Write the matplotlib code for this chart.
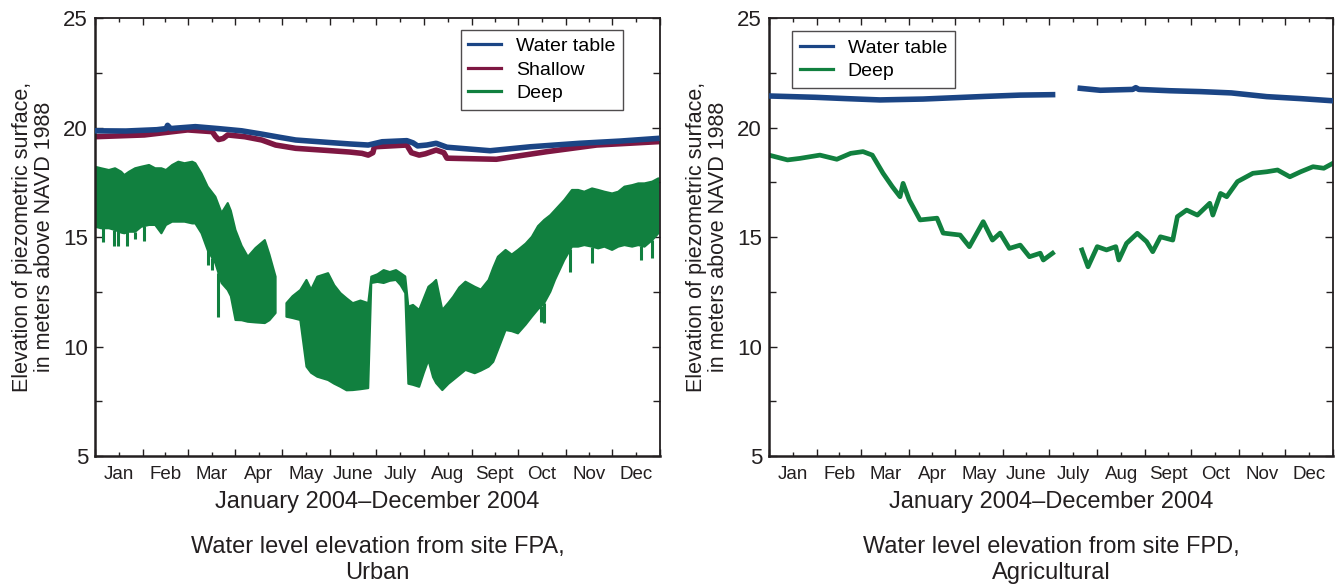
import numpy as np
import matplotlib
matplotlib.use("Agg")
import matplotlib.pyplot as plt
from matplotlib.ticker import FixedLocator, NullFormatter, FixedFormatter

plt.rcParams['font.family'] = ['Liberation Sans', 'DejaVu Sans']

nan = np.nan

### month layout for 2004 (leap year), day of year
month_starts = [0, 31, 60, 91, 121, 152, 182, 213, 244, 274, 305, 335, 366]
month_names = ['Jan', 'Feb', 'Mar', 'Apr', 'May', 'June',
               'July', 'Aug', 'Sept', 'Oct', 'Nov', 'Dec']

### site FPA (urban)
fpa_wt_day = [0, 20, 40, 46, 47, 49, 52, 65, 80, 95, 108, 120, 130, 151, 165, 177,
              186, 202, 206, 209, 215, 221, 228, 256, 282, 314, 340, 364]
fpa_wt = [19.85, 19.84, 19.9, 19.95, 20.1, 19.95, 19.97, 20.04, 19.95, 19.85, 19.7,
          19.55, 19.43, 19.32, 19.25, 19.2, 19.35, 19.4, 19.3, 19.16, 19.2, 19.28,
          19.1, 18.94, 19.12, 19.28, 19.38, 19.5]

fpa_sh_day = [0, 32, 60, 76, 78, 80, 83, 86, 97, 108, 117, 130, 151, 165, 173, 177,
              180, 181, 202, 205, 210, 214, 221, 226, 228, 260, 293, 325, 364]
fpa_sh = [19.58, 19.66, 19.89, 19.81, 19.6, 19.45, 19.5, 19.66, 19.58, 19.43, 19.2,
          19.05, 18.95, 18.88, 18.82, 18.74, 18.85, 19.12, 19.2, 18.85, 18.74, 18.8,
          18.97, 18.85, 18.6, 18.55, 18.9, 19.2, 19.35]

fpa_deep_day = [0, 4, 9, 13, 17, 19, 22, 26, 30, 35, 39, 43, 46, 50, 54, 58, 63, 65,
                69, 73, 78, 82, 86, 88, 91, 95, 99, 104, 110, 113, 117,
                120, 124, 128, 133, 137, 140, 144, 151, 155, 159, 163, 167, 172, 177,
                179, 183, 187, 191, 195, 198, 201, 203, 206, 210, 213, 216, 219, 221,
                225, 229, 232, 236, 240, 246, 250, 255, 258, 261, 266, 270, 274, 279,
                283, 287, 291, 295, 298, 304, 309, 313, 317, 322, 326, 330, 335, 339,
                343, 348, 352, 356, 361, 365]
fpa_deep_hi = [18.21, 18.14, 18.06, 18.14, 17.98, 17.83, 17.98, 18.14, 18.21, 18.29,
               18.14, 18.14, 18.06, 18.29, 18.44, 18.37, 18.44, 18.37, 17.9, 17.3, 16.84,
               16.1, 16.55, 16.2, 15.32, 14.6, 14.1, 14.5, 14.86, 14.2, 13.19,
               nan, 11.98, 12.3, 12.58, 13.04, 12.6, 13.19, 13.35, 12.8, 12.44, 12.2,
               11.98, 12.1, 11.98,
               13.19, 13.3, 13.49, 13.4, 13.49, 13.35, 13.2, 11.82, 11.9, 11.67, 12.2,
               12.73, 12.9, 13.04, 11.67, 12.0, 12.27, 12.7, 12.96, 12.73, 12.6, 13.04,
               13.6, 14.1, 14.41, 14.2, 14.41, 14.7, 15.01, 15.5, 15.78, 16.0, 16.23,
               16.69, 17.15, 17.15, 17.07, 17.22, 17.15, 17.07, 16.99, 17.07, 17.3,
               17.37, 17.45, 17.45, 17.53, 17.68]
fpa_deep_lo = [15.47, 15.4, 15.4, 15.32, 15.2, 15.17, 15.24, 15.24, 15.47, 15.55,
               15.55, 15.17, 15.55, 15.7, 15.7, 15.7, 15.62, 15.62, 15.17, 14.4, 13.8,
               12.9, 12.58, 12.3, 11.21, 11.2, 11.13, 11.1, 11.07, 11.2, 11.53,
               nan, 11.36, 11.3, 11.21, 9.08, 8.8, 8.62, 8.47, 8.3, 8.16, 8.0, 8.01,
               8.05, 8.1,
               12.9, 12.95, 12.9, 13.0, 13.04, 12.8, 12.44, 8.3, 8.25, 8.16, 8.8, 9.38,
               8.6, 8.33, 8.01, 8.3, 8.47, 8.7, 8.93, 8.78, 8.9, 9.08, 9.3, 9.84, 10.75,
               10.7, 10.6, 11.0, 11.36, 11.7, 11.98, 12.5, 13.04, 13.95, 14.56, 14.56,
               14.63, 14.56, 14.48, 14.56, 14.41, 14.56, 14.63, 14.56, 14.63, 14.56,
               14.86, 15.17]

# short downward excursions in the deep well
fpa_spike_day = [5, 12, 15, 21, 26, 32, 73, 76, 80, 289, 291, 308, 322, 354, 361]
fpa_spike_lo = [14.79, 14.6, 14.6, 14.6, 14.9, 14.8, 13.72, 13.5, 11.36, 11.13,
                11.07, 13.4, 13.8, 13.95, 14.04]

### site FPD (agricultural)
fpd_wt_day = [0, 30, 50, 72, 100, 120, 140, 163, 184, 202, 215, 236, 238, 240, 260,
              280, 300, 323, 345, 366]
fpd_wt = [21.44, 21.38, 21.32, 21.26, 21.3, 21.36, 21.42, 21.48, 21.5, 21.79, 21.7,
          21.74, 21.82, 21.74, 21.68, 21.64, 21.58, 21.41, 21.32, 21.22]

fpd_deep_day = [0, 12, 20, 33, 44, 53, 61, 67, 74, 80, 85, 87, 91, 98, 109, 113, 124,
                130, 139, 145, 150, 156, 163, 169, 176, 178, 184, 192,
                203, 207, 213, 219, 225, 227, 232, 239, 245, 249, 254, 262, 265, 271,
                278, 286, 288, 293, 297, 304, 314, 323, 330, 338, 345, 353, 360, 366]
fpd_deep = [18.74, 18.52, 18.59, 18.74, 18.55, 18.82, 18.9, 18.74, 17.91, 17.3, 16.84,
            17.45, 16.69, 15.78, 15.86, 15.18, 15.09, 14.56, 15.7, 14.86, 15.18, 14.48,
            14.63, 14.1, 14.26, 13.95, 14.26, nan,
            14.41, 13.64, 14.56, 14.41, 14.56, 13.95, 14.71, 15.17, 14.79, 14.33, 15.01,
            14.86, 15.93, 16.23, 16.0, 16.54, 16.0, 16.99, 16.84, 17.53, 17.91, 17.98,
            18.06, 17.75, 17.98, 18.21, 18.14, 18.37]
fpd_wt_gap = 192  # no record between early and mid July

BLUE = '#1b4585'
RED = '#7e1742'
GREEN = '#11803f'
TXT = '#231f20'

fig = plt.figure(figsize=(13.4, 5.85), dpi=100)
ax1 = fig.add_axes([0.0709, 0.2205, 0.4216, 0.7487])
ax2 = fig.add_axes([0.5739, 0.2205, 0.4209, 0.7487])


def style_axes(ax):
    ax.set_xlim(0, 366)
    ax.set_ylim(5, 25)
    mids = [(month_starts[i] + month_starts[i + 1]) / 2 for i in range(12)]
    ax.xaxis.set_major_locator(FixedLocator(month_starts))
    ax.xaxis.set_major_formatter(NullFormatter())
    ax.xaxis.set_minor_locator(FixedLocator(mids))
    ax.xaxis.set_minor_formatter(FixedFormatter(month_names))
    ax.yaxis.set_major_locator(FixedLocator([5, 10, 15, 20, 25]))
    ax.yaxis.set_minor_locator(FixedLocator([7.5, 12.5, 17.5, 22.5]))
    ax.tick_params(axis='both', which='both', direction='in', top=True, right=True,
                   colors=TXT, width=1.0)
    ax.tick_params(axis='x', which='major', length=5)
    ax.tick_params(axis='x', which='minor', length=3, labelsize=13.5, pad=7)
    ax.tick_params(axis='y', which='major', length=6, labelsize=16, pad=5)
    ax.tick_params(axis='y', which='minor', length=5)
    for side in ['left', 'bottom']:
        ax.spines[side].set_linewidth(1.8)
    for side in ['top', 'right']:
        ax.spines[side].set_linewidth(1.3)
    for s in ax.spines.values():
        s.set_color(TXT)
    ax.set_xlabel('January 2004\u2013December 2004', fontsize=17, color=TXT, labelpad=6)
    ax.set_ylabel('Elevation of piezometric surface,\nin meters above NAVD 1988',
                  fontsize=15.5, color=TXT, linespacing=1.05, labelpad=6)


def add_legend(ax, loc, anchor):
    leg = ax.legend(loc=loc, bbox_to_anchor=anchor, fontsize=14, frameon=True,
                    fancybox=False, edgecolor=TXT, handlelength=1.7,
                    labelspacing=0.3, borderpad=0.4, handletextpad=0.75,
                    borderaxespad=0.0)
    leg.get_frame().set_linewidth(1.0)
    for ln in leg.get_lines():
        ln.set_linewidth(2.3)
    return leg


### left panel
ax1.plot(fpa_wt_day, fpa_wt, color=BLUE, lw=4.0, label='Water table', zorder=3)
ax1.plot(fpa_sh_day, fpa_sh, color=RED, lw=4.0, label='Shallow', zorder=2)
ax1.fill_between(fpa_deep_day, fpa_deep_lo, fpa_deep_hi, color=GREEN, lw=1.5,
                 edgecolor=GREEN, zorder=2)
ax1.vlines(fpa_spike_day, fpa_spike_lo, np.interp(fpa_spike_day, fpa_deep_day,
           np.nan_to_num(fpa_deep_lo, nan=11.5)), color=GREEN, lw=2.2, zorder=2)
ax1.plot([], [], color=GREEN, lw=3, label='Deep')
style_axes(ax1)
add_legend(ax1, 'upper right', (0.935, 0.973))

### right panel
wt_day = np.array(fpd_wt_day, dtype=float)
wt_val = np.array(fpd_wt)
wt_day = np.insert(wt_day, 9, fpd_wt_gap)
wt_val = np.insert(wt_val, 9, nan)
ax2.plot(wt_day, wt_val, color=BLUE, lw=4.0, label='Water table', zorder=3)
ax2.plot(fpd_deep_day, fpd_deep, color=GREEN, lw=3.4, label='Deep', zorder=2)
style_axes(ax2)
add_legend(ax2, 'upper left', (0.041, 0.97))

fig.text(0.2817, 0.083, 'Water level elevation from site FPA,\nUrban', ha='center',
         va='top', fontsize=17, color=TXT, linespacing=1.2)
fig.text(0.7843, 0.083, 'Water level elevation from site FPD,\nAgricultural', ha='center',
         va='top', fontsize=17, color=TXT, linespacing=1.2)

fig.savefig('out.png', dpi=100)
